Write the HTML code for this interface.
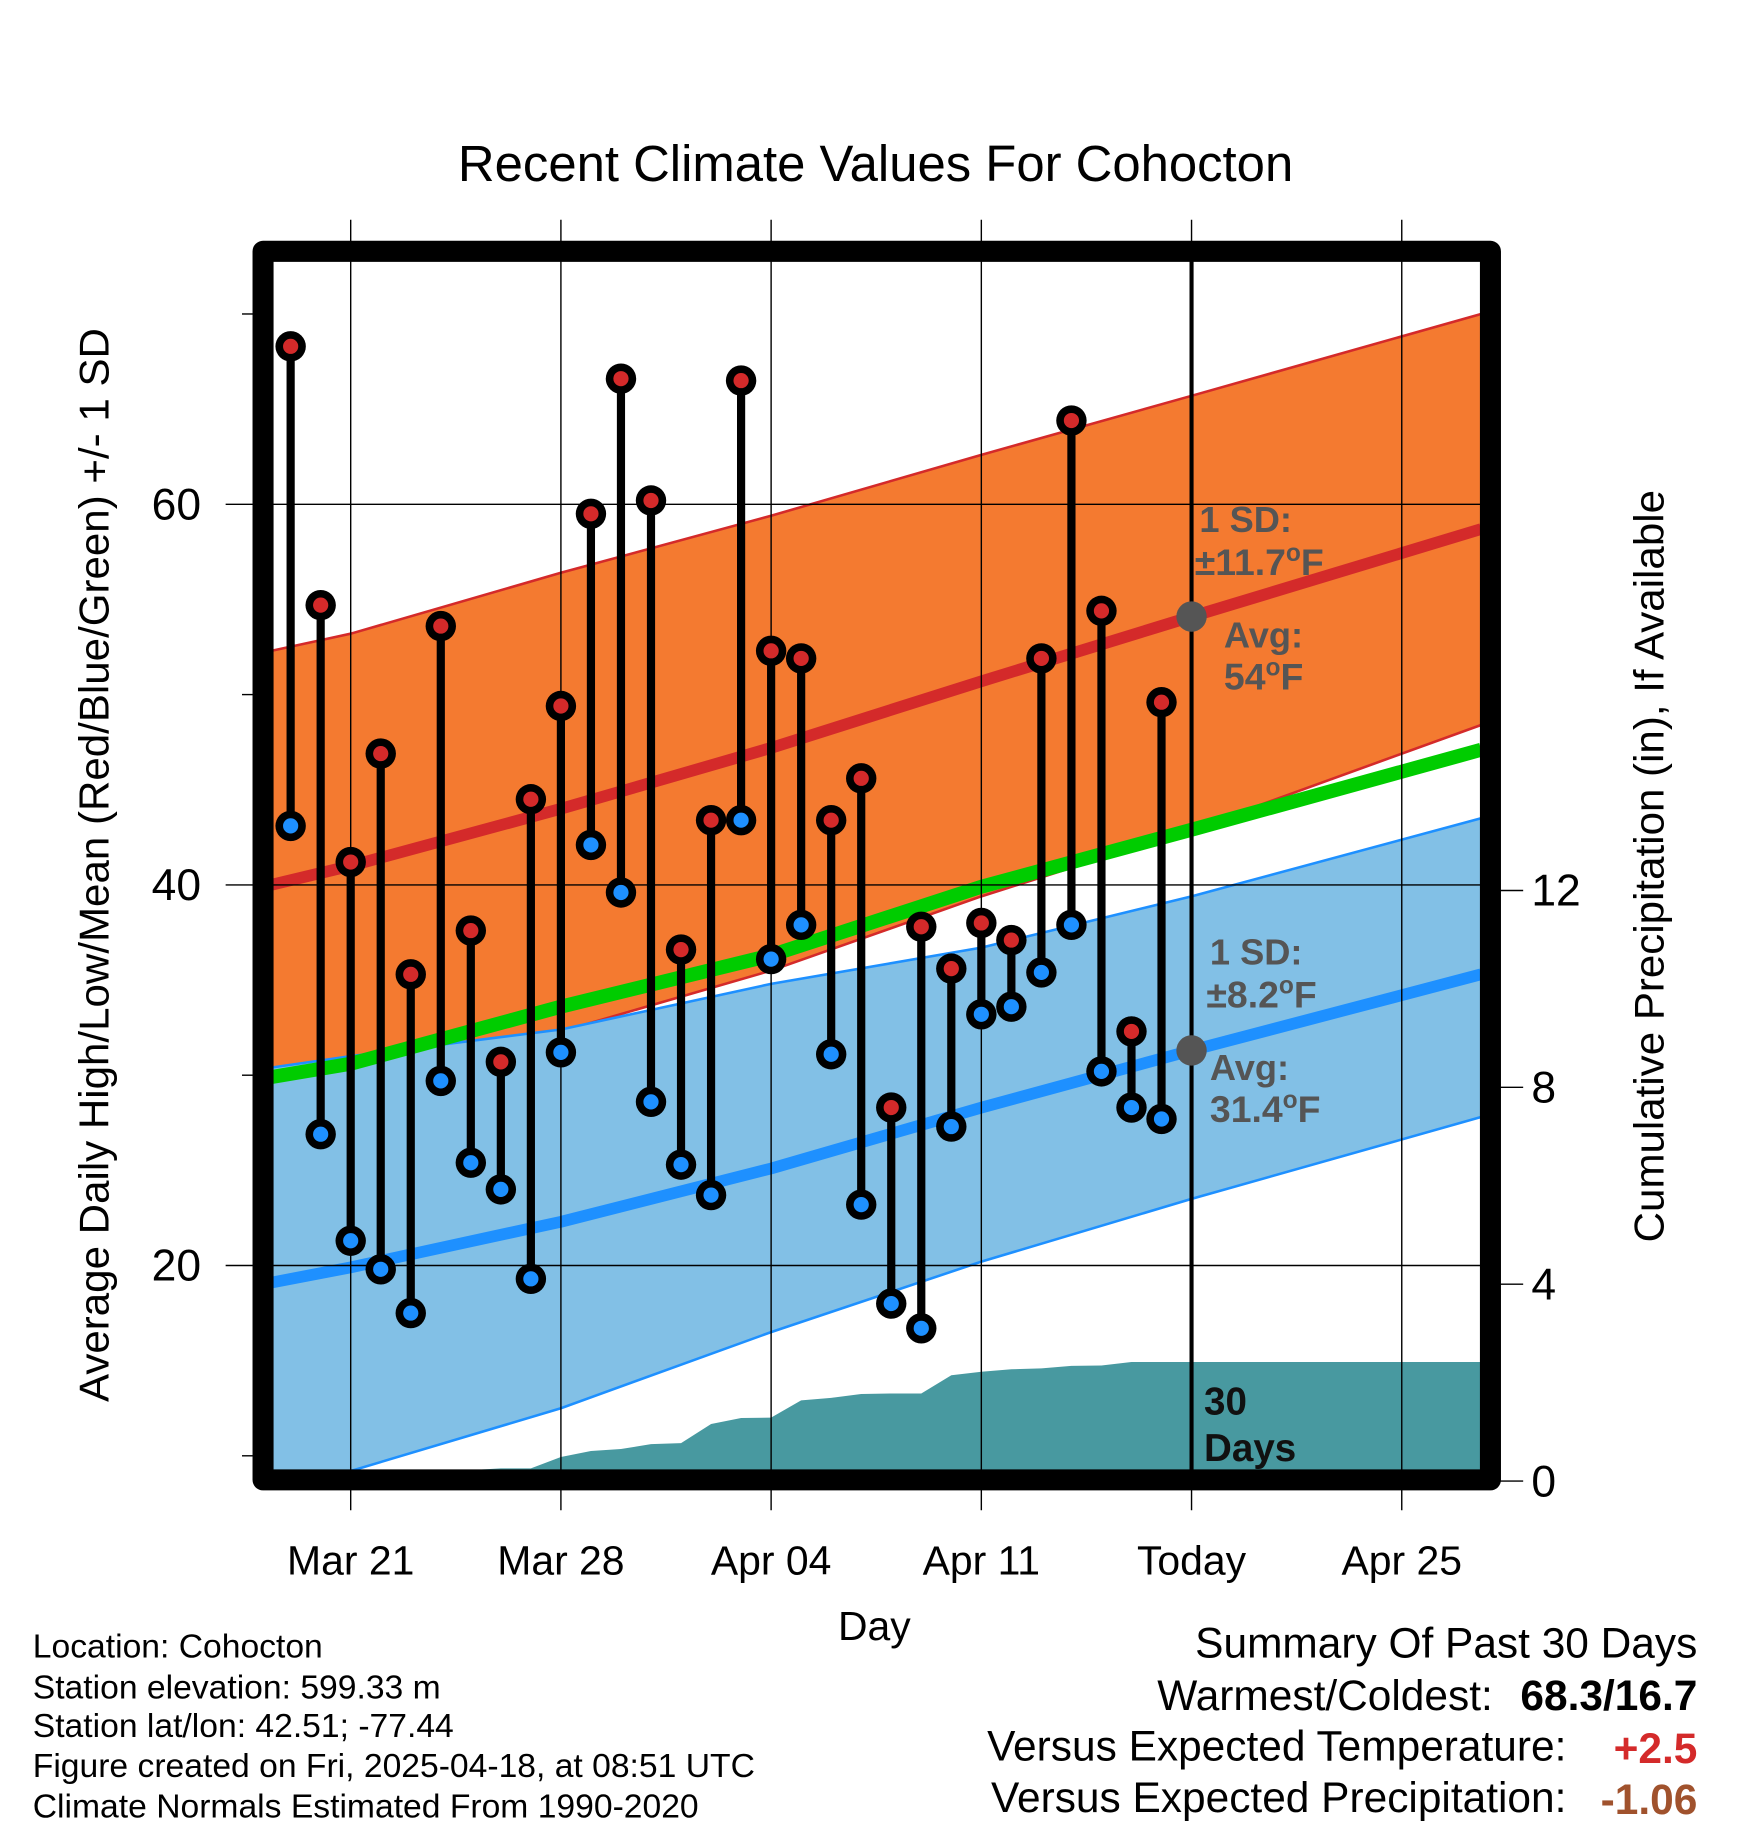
<!DOCTYPE html>
<html><head><meta charset="utf-8"><style>
html,body{margin:0;padding:0;background:#fff}
svg{display:block}
text{font-family:"Liberation Sans",sans-serif}
</style></head><body>
<svg id="chart" xmlns="http://www.w3.org/2000/svg" width="1748" height="1828" viewBox="0 0 1495.3 1563.8">
<defs><clipPath id="plotclip"><rect x="232" y="222" width="1035" height="1037"/></clipPath></defs>
<rect x="0" y="0" width="1495.3" height="1563.8" fill="#fff"/>
<text x="749" y="155" font-size="43.5" text-anchor="middle">Recent Climate Values For Cohocton</text>
<g id="plot" clip-path="url(#plotclip)"></g>
<g id="over"></g>
<text transform="translate(93,740) rotate(-90)" font-size="36" text-anchor="middle">Average Daily High/Low/Mean (Red/Blue/Green) +/- 1 SD</text>
<text transform="translate(1423,741) rotate(-90)" font-size="36" text-anchor="middle">Cumulative Precipitation (in), If Available</text>
<text x="748" y="1403" font-size="35" text-anchor="middle">Day</text>
<g font-size="28.8">
<text x="28" y="1418">Location: Cohocton</text>
<text x="28" y="1453">Station elevation: 599.33 m</text>
<text x="28" y="1486">Station lat/lon: 42.51; -77.44</text>
<text x="28" y="1520">Figure created on Fri, 2025-04-18, at 08:51 UTC</text>
<text x="28" y="1555">Climate Normals Estimated From 1990-2020</text>
</g>
<g font-size="36.3">
<text x="1452" y="1418" text-anchor="end">Summary Of Past 30 Days</text>
<text x="1277" y="1463" text-anchor="end">Warmest/Coldest:</text>
<text x="1452" y="1463" text-anchor="end" font-weight="bold">68.3/16.7</text>
<text x="1340" y="1506" text-anchor="end">Versus Expected Temperature:</text>
<text x="1452" y="1508" text-anchor="end" font-weight="bold" fill="#d42a2a">+2.5</text>
<text x="1340" y="1550" text-anchor="end">Versus Expected Precipitation:</text>
<text x="1452" y="1552" text-anchor="end" font-weight="bold" fill="#a0522d">-1.06</text>
</g>
</svg>
<script>
// Day index 0 = Mar 19
const highs=[68.3,54.7,41.2,46.9,35.3,53.6,37.6,30.7,44.5,49.4,59.5,66.6,60.2,36.6,43.4,66.5,52.3,51.9,43.4,45.6,28.3,37.8,35.6,38.0,37.1,51.9,64.4,54.4,32.3,49.6];
const lows=[43.1,26.9,21.3,19.8,17.5,29.7,25.4,24.0,19.3,31.2,42.1,39.6,28.6,25.3,23.7,43.4,36.1,37.9,31.1,23.2,18.0,16.7,27.3,33.2,33.6,35.4,37.9,30.2,28.3,27.7];
const precip=[0.01,0.01,0.01,0.02,0.02,0.03,0.03,0.07,0.07,0.30,0.42,0.46,0.56,0.58,0.97,1.09,1.10,1.45,1.50,1.58,1.59,1.59,1.96,2.03,2.08,2.10,2.15,2.16,2.23,2.23];
const normDays=[-0.65,2,9,16,23,30,39.64];
const normHigh=[40.0,41.0,44.0,47.2,50.7,54.1,58.7];
const normHighUp=[52.3,53.2,56.4,59.4,62.6,65.7,70.0];
const normHighLo=[28.9,29.8,32.3,35.5,39.4,42.9,48.4];
const normLow=[19.1,19.9,22.3,25.1,28.3,31.3,35.3];
const normLowUp=[30.4,31.0,32.4,34.8,36.7,39.4,43.5];
const normLowLo=[7.5,9.2,12.5,16.5,20.2,23.5,27.8];
const normMean=[29.9,30.6,33.6,36.3,39.9,42.9,47.1];
const xTickDays=[2,9,16,23,30,37];
const xTickLabels=["Mar 21","Mar 28","Apr 04","Apr 11","Today","Apr 25"];
const yTicks=[20,40,60];
const yMinor=[10,30,50,70];
const pTicks=[0,4,8,12];

const NS="http://www.w3.org/2000/svg";
const X=d=>248.6+25.69*d;
const Y=v=>757-(v-40)*16.28;
const YP=p=>1259-42.1*p;
const plot=document.getElementById('plot');
const over=document.getElementById('over');
function mk(tag,attrs,parent){const e=document.createElementNS(NS,tag);for(const k in attrs)e.setAttribute(k,attrs[k]);parent.appendChild(e);return e;}
function pts(arr){return normDays.map((d,i)=>X(d).toFixed(1)+','+Y(arr[i]).toFixed(1));}
function band(up,lo,fill,name){
  const p=pts(up).concat(pts(lo).reverse()).join(' ');
  const e=mk('polygon',{points:p,fill:fill},plot);
  
  
}
function line(arr,color,w,name){
  const e=mk('polyline',{points:pts(arr).join(' '),fill:'none',stroke:color,'stroke-width':w,'stroke-linejoin':'round'},plot);
  
  
}
band(normHighUp,normHighLo,'#f47a30','high-sd-band');
line(normHighUp,'#d42a2a',2.2,'high-sd-upper');
line(normHighLo,'#d42a2a',2.2,'high-sd-lower');
band(normLowUp,normLowLo,'#82c0e6','low-sd-band');
line(normLowUp,'#1e90ff',2.2,'low-sd-upper');
line(normLowLo,'#1e90ff',2.2,'low-sd-lower');
line(normHigh,'#d42a2a',10,'normal-high-line');
line(normLow,'#1e90ff',10,'normal-low-line');
line(normMean,'#00cc00',12,'normal-mean-line');
// precipitation
let pp=[X(-0.65)+','+YP(precip[0])];
precip.forEach((v,i)=>pp.push(X(i).toFixed(1)+','+YP(v).toFixed(1)));
pp.push('1267,'+YP(precip[precip.length-1]).toFixed(1));
pp.push('1267,1262');pp.push('232,1262');
const pr=mk('polygon',{points:pp.join(' '),fill:'#4899a0'},plot);


// grid
xTickDays.forEach((d,i)=>{
  const g=mk('line',{x1:X(d),x2:X(d),y1:188,y2:1292,stroke:'#000','stroke-width':1.2},over);
  
  
  const t=mk('text',{x:X(d),y:1347,'font-size':35,'text-anchor':'middle'},over);
  t.textContent=xTickLabels[i];
  
  
});
yTicks.forEach(v=>{
  const g=mk('line',{x1:193,x2:1267,y1:Y(v),y2:Y(v),stroke:'#000','stroke-width':1.2},over);
  
  
  const t=mk('text',{x:172,y:Y(v)+13,'font-size':38,'text-anchor':'end'},over);
  t.textContent=v;
  
  
});
yMinor.forEach(v=>{
  const g=mk('line',{x1:207,x2:220,y1:Y(v),y2:Y(v),stroke:'#000','stroke-width':1.2},over);
  
  
});
pTicks.forEach(v=>{
  const g=mk('line',{x1:1280,x2:1303,y1:YP(v)+8,y2:YP(v)+8,stroke:'#000','stroke-width':1.2},over);
  
  
  const t=mk('text',{x:1310,y:YP(v)+21,'font-size':38},over);
  t.textContent=v;
  
  
});
// today line
const td=mk('line',{x1:X(30),x2:X(30),y1:222,y2:1262,stroke:'#000','stroke-width':3.5},over);


// annotations
function txt(x,y,s,size,fill,name,bold){
  const t=mk('text',{x:x,y:y,'font-size':size,fill:fill,'font-weight':bold?'bold':'normal'},over);
  t.innerHTML=s;
  
  
}
txt(1026,455,'1 SD:',31,'#555','high-sd-label',1);
txt(1022,492,'±11.7<tspan dy="-12" font-size="21">o</tspan><tspan dy="12">F</tspan>',32,'#555','high-sd-value',1);
txt(1047,554,'Avg:',31,'#555','high-avg-label',1);
txt(1047,590,'54<tspan dy="-12" font-size="21">o</tspan><tspan dy="12">F</tspan>',32,'#555','high-avg-value',1);
txt(1035,825,'1 SD:',31,'#555','low-sd-label',1);
txt(1032,862,'±8.2<tspan dy="-12" font-size="21">o</tspan><tspan dy="12">F</tspan>',32,'#555','low-sd-value',1);
txt(1035,924,'Avg:',31,'#555','low-avg-label',1);
txt(1035,960,'31.4<tspan dy="-12" font-size="21">o</tspan><tspan dy="12">F</tspan>',32,'#555','low-avg-value',1);
txt(1030,1210,'30',33,'#111','days-label-30',1);
txt(1030,1250,'Days',33,'#111','days-label',1);
const d1=mk('circle',{cx:X(30),cy:Y(54.1),r:13,fill:'#555'},over);


const d2=mk('circle',{cx:X(30),cy:Y(31.3),r:13,fill:'#555'},over);


// stems and markers
highs.forEach((h,i)=>{
  const s=mk('line',{x1:X(i),x2:X(i),y1:Y(h),y2:Y(lows[i]),stroke:'#000','stroke-width':7},over);
  
  
});
function marker(x,y,col,name){
  const g=mk('g',{},over);
  
  
  mk('circle',{cx:x,cy:y,r:13,fill:'#000'},g);
  mk('circle',{cx:x,cy:y,r:6.5,fill:col},g);
}
highs.forEach((h,i)=>marker(X(i),Y(h),'#d42a2a','high-marker'));
lows.forEach((l,i)=>marker(X(i),Y(l),'#1e90ff','low-marker'));
// frame
const fr=mk('rect',{x:225,y:215,width:1050,height:1051,fill:'none',stroke:'#000','stroke-width':18,'stroke-linejoin':'round'},over);


</script>
</body></html>
